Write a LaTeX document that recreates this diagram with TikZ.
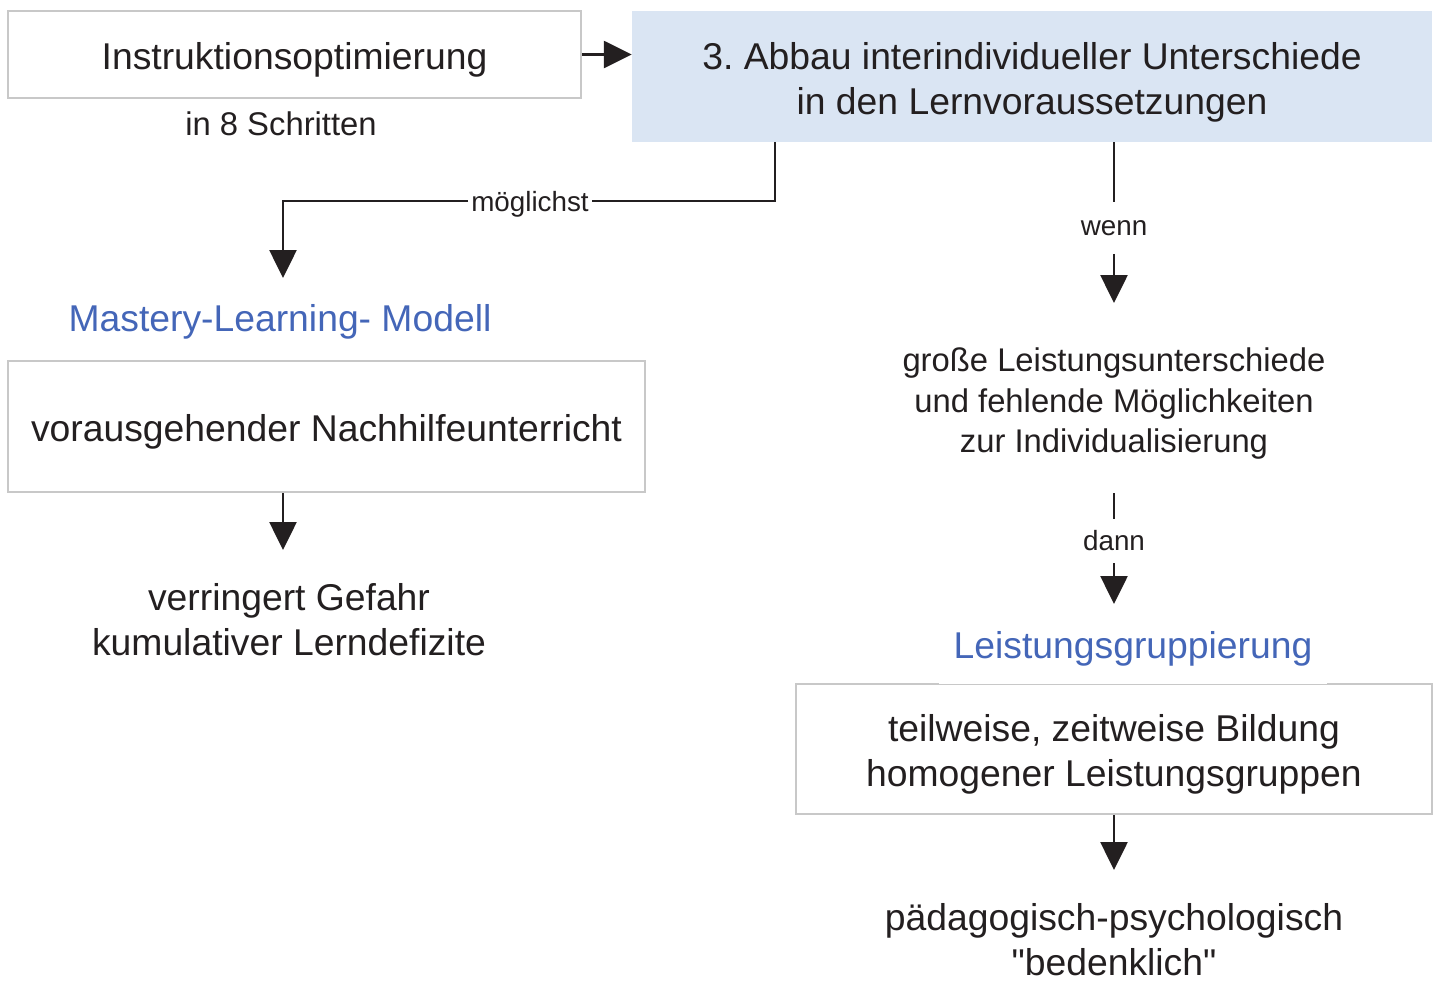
\documentclass[tikz,border=0pt]{standalone}
\usepackage{fontspec}
\setmainfont{Liberation Sans}[Ligatures=TeXOff]
\usetikzlibrary{arrows.meta,positioning}

\definecolor{boxgrau}{HTML}{C8C8C8}
\definecolor{blaufeld}{HTML}{DAE5F3}
\definecolor{blautext}{HTML}{4466B8}
\definecolor{tinte}{HTML}{231F20}

\newcommand{\grossschrift}{\fontsize{37.3}{45}\selectfont}
\newcommand{\mittelschrift}{\fontsize{32.8}{40.5}\selectfont}
\newcommand{\kleinschrift}{\fontsize{27.8}{32}\selectfont}
\newcommand{\oben}{\rule{0pt}{38.5pt}}

\begin{document}
\frenchspacing
\begin{tikzpicture}[x=1pt, y=-1pt,
    kasten/.style={rectangle, draw=boxgrau, line width=2.6pt, fill=white,
      align=center, text=tinte, font=\grossschrift, inner sep=0pt},
    blaukasten/.style={rectangle, fill=blaufeld, align=center, text=tinte,
      font=\grossschrift, inner sep=0pt},
    titel/.style={text=blautext, font=\grossschrift},
    notiz/.style={text=tinte, align=center, font=\grossschrift},
    klein/.style={text=tinte, align=center, font=\mittelschrift},
    etikett/.style={text=tinte, font=\kleinschrift, fill=white, inner xsep=3pt},
    linie/.style={draw=tinte, line width=2.6pt},
    pfeil/.style={linie, -{Triangle[width=27pt, length=28pt]}}]

  \useasboundingbox (0,0) rectangle (1440,980);

  % Kopfzeile
  \node[kasten, minimum width=573pt, minimum height=87pt] (instr) at (294.5,54.5) {\oben Instruktionsoptimierung};
  \node[klein] (schritte) at (281,124) {in 8 Schritten};
  \node[blaukasten, minimum width=800pt, minimum height=131pt] (abbau) at (1032,76.5)
    {\oben 3. Abbau interindividueller Unterschiede\\in den Lernvoraussetzungen};

  % linker Zweig
  \node[etikett, text depth=0pt] (moeg) at (530,201) {möglichst};
  \coordinate (moegende) at (283,278);
  \node[titel] (mastery) at (280,322) {Mastery-Learning- Modell};
  \node[kasten, minimum width=637pt, minimum height=131pt] (nachhilfe) at (326.5,426.5) {\oben vorausgehender Nachhilfeunterricht};
  \coordinate (gefahrende) at (283,550);
  \node[notiz] (gefahr) at (289,620) {verringert Gefahr\\kumulativer Lerndefizite};

  % rechter Zweig
  \node[etikett, inner ysep=18pt] (wenn) at (1114,228) {wenn};
  \coordinate (wennende) at (1114,303);
  \node[klein] (gross) at (1114,404) {große Leistungsunterschiede\\und fehlende Möglichkeiten\\zur Individualisierung};
  \coordinate (dannstart) at (1114,493);
  \node[etikett, inner ysep=12pt] (dann) at (1114,541) {dann};
  \coordinate (dannende) at (1114,604);
  \node[kasten, minimum width=636pt, minimum height=130pt] (bildung) at (1114,749)
    {\oben teilweise, zeitweise Bildung\\homogener Leistungsgruppen};
  \node[titel, fill=white, inner xsep=15pt, inner ysep=18pt] (gruppierung) at (1133,649) {Leistungsgruppierung};
  \coordinate (bedenkende) at (1114,870);
  \node[notiz] (bedenklich) at (1114,940) {pädagogisch-psychologisch\\"bedenklich"};

  % Verbindungen
  \draw[pfeil] (instr.east) -- (instr.east -| abbau.west);
  \draw[linie] (abbau.south -| 775,0) |- (moeg.east);
  \draw[pfeil] (moeg.west) -| (moegende);
  \draw[pfeil] (nachhilfe.south -| gefahrende) -- (gefahrende);
  \draw[linie] (abbau.south -| wenn) -- (wenn);
  \draw[pfeil] (wenn) -- (wennende);
  \draw[linie] (dannstart) -- (dann);
  \draw[pfeil] (dann) -- (dannende);
  \draw[pfeil] (bildung.south) -- (bedenkende);

\end{tikzpicture}
\end{document}
